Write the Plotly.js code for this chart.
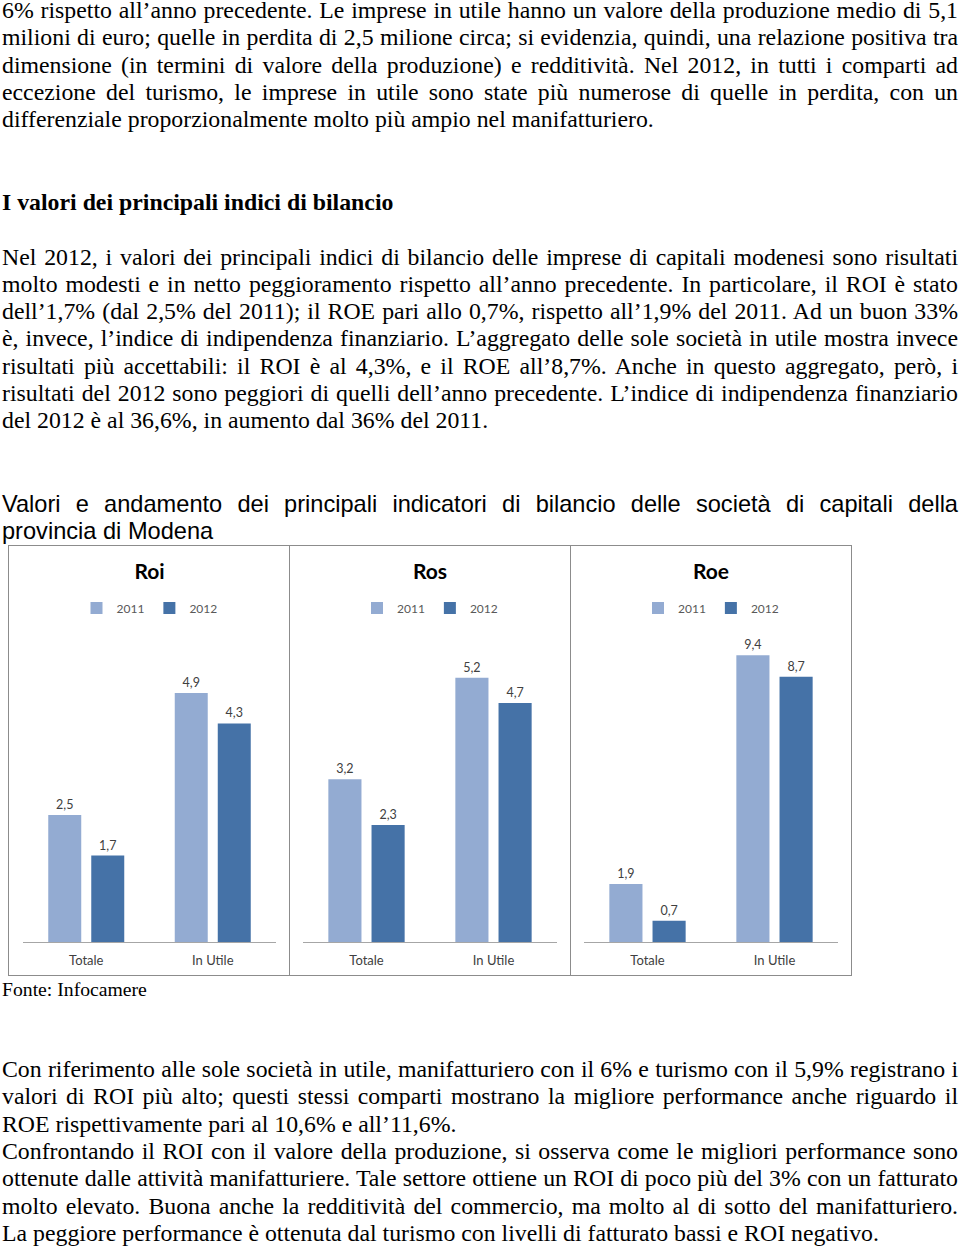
<!DOCTYPE html>
<html><head><meta charset="utf-8">
<script src="https://cdn.plot.ly/plotly-3.0.1.min.js"></script>
<style>
html,body{margin:0;padding:0;background:#fff}
body{width:960px;height:1246px;position:relative;overflow:hidden}
.ln{position:absolute;left:2px;width:956px;height:28px;line-height:28px;white-space:normal;overflow:visible;color:#000}
.serif{font-family:"Liberation Serif","Times New Roman",serif;font-size:23.8px}
.sans{font-family:"Liberation Sans",Arial,sans-serif;font-size:23.6px}
.j{text-align:justify;text-align-last:justify}
.l{text-align:left;text-align-last:left}
.b{font-weight:bold}
.frame{position:absolute;box-sizing:border-box;border:1px solid #8c8c8c;pointer-events:none}
.chart{position:absolute}
</style>
</head><body>
<div id="p1" class="chart" style="left:8px;top:545px;width:281px;height:430px"></div>
<div id="p2" class="chart" style="left:289px;top:545px;width:281px;height:430px"></div>
<div id="p3" class="chart" style="left:570px;top:545px;width:282px;height:430px"></div>
<div class="frame" style="left:8px;top:545px;width:282px;height:431px"></div>
<div class="frame" style="left:289px;top:545px;width:282px;height:431px"></div>
<div class="frame" style="left:570px;top:545px;width:282px;height:431px"></div>
<script>
// ---- chart data ----
const categories = ['Totale', 'In Utile'];
const seriesNames = ['2011', '2012'];
const panelTitles = ['Roi', 'Ros', 'Roe'];
const roi2011 = [2.5, 4.9];
const roi2012 = [1.7, 4.3];
const ros2011 = [3.2, 5.2];
const ros2012 = [2.3, 4.7];
const roe2011 = [1.9, 9.4];
const roe2012 = [0.7, 8.7];
const yMax = [6, 6, 10];

// ---- page text ----
const textLines = [
 [18,'serif j','6% rispetto all’anno precedente. Le imprese in utile hanno un valore della produzione medio di 5,1'],
 [45.3,'serif j','milioni di euro; quelle in perdita di 2,5 milione circa; si evidenzia, quindi, una relazione positiva tra'],
 [72.6,'serif j','dimensione (in termini di valore della produzione) e redditività. Nel 2012, in tutti i comparti ad'],
 [99.9,'serif j','eccezione del turismo, le imprese in utile sono state più numerose di quelle in perdita, con un'],
 [127.2,'serif l','differenziale proporzionalmente molto più ampio nel manifatturiero.'],
 [210,'serif l b','I valori dei principali indici di bilancio'],
 [264.5,'serif j','Nel 2012, i valori dei principali indici di bilancio delle imprese di capitali modenesi sono risultati'],
 [291.8,'serif j','molto modesti e in netto peggioramento rispetto all’anno precedente. In particolare, il ROI è stato'],
 [319.1,'serif j','dell’1,7% (dal 2,5% del 2011); il ROE pari allo 0,7%, rispetto all’1,9% del 2011. Ad un buon 33%'],
 [346.4,'serif j','è, invece, l’indice di indipendenza finanziario. L’aggregato delle sole società in utile mostra invece'],
 [373.7,'serif j','risultati più accettabili: il ROI è al 4,3%, e il ROE all’8,7%. Anche in questo aggregato, però, i'],
 [401,'serif j','risultati del 2012 sono peggiori di quelli dell’anno precedente. L’indice di indipendenza finanziario'],
 [428.3,'serif l','del 2012 è al 36,6%, in aumento dal 36% del 2011.'],
 [512,'sans j','Valori e andamento dei principali indicatori di bilancio delle società di capitali della'],
 [539,'sans l','provincia di Modena'],
 [1077,'serif j','Con riferimento alle sole società in utile, manifatturiero con il 6% e turismo con il 5,9% registrano i'],
 [1104.3,'serif j','valori di ROI più alto; questi stessi comparti mostrano la migliore performance anche riguardo il'],
 [1131.6,'serif l','ROE rispettivamente pari al 10,6% e all’11,6%.'],
 [1158.9,'serif j','Confrontando il ROI con il valore della produzione, si osserva come le migliori performance sono'],
 [1186.2,'serif j','ottenute dalle attività manifatturiere. Tale settore ottiene un ROI di poco più del 3% con un fatturato'],
 [1213.5,'serif j','molto elevato. Buona anche la redditività del commercio, ma molto al di sotto del manifatturiero.'],
 [1240.8,'serif l','La peggiore performance è ottenuta dal turismo con livelli di fatturato bassi e ROI negativo.']
];
textLines.forEach(([base, cls, txt]) => {
  const d = document.createElement('div');
  d.className = 'ln ' + cls;
  const off = cls.indexOf('sans') >= 0 ? 22.1 : 22.0;
  d.style.top = (base - off) + 'px';
  d.textContent = txt;
  document.body.appendChild(d);
});
const f = document.createElement('div');
f.className = 'ln serif l';
f.style.fontSize = '19.7px';
f.style.top = (995.5 - 20.6) + 'px';
f.textContent = 'Fonte: Infocamere';
document.body.appendChild(f);

// ---- charts ----
const FONT = 'Lato, "Open Sans", sans-serif';
const C11 = '#93ABD2';
const C12 = '#4572A7';
function drawPanel(id, title, v11, v12, ymax, w, ml, mr) {
  const mk = (name, vals, color) => ({
    type: 'bar', name: name, x: categories, y: vals,
    marker: {color: color},
    texttemplate: '%{y:.1f}', textposition: 'outside', cliponaxis: false,
    textfont: {family: FONT, size: 12.5, color: '#404040'},
    hoverinfo: 'skip'
  });
  const layout = {
    width: w, height: 430,
    margin: {l: ml, r: mr, t: 92, b: 33, pad: 0},
    separators: ',.',
    barmode: 'group', bargap: 0.32, bargroupgap: 0.233,
    paper_bgcolor: 'rgba(0,0,0,0)', plot_bgcolor: 'rgba(0,0,0,0)',
    title: {text: title, x: 0.5, xanchor: 'center', xref: 'paper', y: 1 - 27/430, yanchor: 'middle', yref: 'container',
            font: {family: FONT, size: 21, color: '#000', weight: 'bold'}},
    showlegend: true,
    legend: {orientation: 'h', x: 0.5, xanchor: 'center', y: 1 + (92 - 63) / 305, yanchor: 'middle',
             font: {family: FONT, size: 12, color: '#595959'}, itemwidth: 30, bgcolor: 'rgba(0,0,0,0)'},
    xaxis: {type: 'category', showline: true, linecolor: '#A6A6A6', linewidth: 1, ticks: '',
            tickfont: {family: FONT, size: 13, color: '#404040'}, ticklabelstandoff: 6,
            showgrid: false, zeroline: false, fixedrange: true},
    yaxis: {range: [0, ymax], visible: false, showgrid: false, zeroline: false, fixedrange: true}
  };
  Plotly.newPlot(id, [mk(seriesNames[0], v11, C11), mk(seriesNames[1], v12, C12)], layout,
                 {staticPlot: true, displayModeBar: false});
}
drawPanel('p1', panelTitles[0], roi2011, roi2012, yMax[0], 281, 15, 13);
drawPanel('p2', panelTitles[1], ros2011, ros2012, yMax[1], 281, 14, 13);
drawPanel('p3', panelTitles[2], roe2011, roe2012, yMax[2], 282, 14, 14);
</script>
</body></html>
